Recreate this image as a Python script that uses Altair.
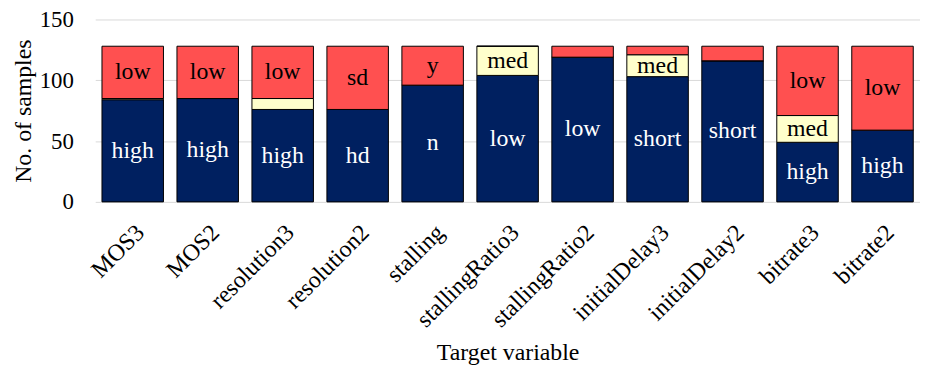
import altair as alt
import pandas as pd

categories = ["MOS3", "MOS2", "resolution3", "resolution2", "stalling",
              "stallingRatio3", "stallingRatio2", "initialDelay3",
              "initialDelay2", "bitrate3", "bitrate2"]
bottom_vals = [84, 85, 76, 76, 96, 104, 119, 103, 116, 49, 59]
middle_vals = [1, 0, 9, 0, 0, 24, 0, 18, 0, 22, 0]
top_vals = [43, 43, 43, 52, 32, 0, 9, 7, 12, 57, 69]
bottom_labels = ["high", "high", "high", "hd", "n", "low", "low", "short", "short", "high", "high"]
middle_labels = ["", "", "", "", "", "med", "", "med", "", "med", ""]
top_labels = ["low", "low", "low", "sd", "y", "", "", "", "", "low", "low"]

rows = []
for i, c in enumerate(categories):
    rows.append({"cat": c, "seg": 0, "value": bottom_vals[i], "label": bottom_labels[i]})
    rows.append({"cat": c, "seg": 1, "value": middle_vals[i], "label": middle_labels[i]})
    rows.append({"cat": c, "seg": 2, "value": top_vals[i], "label": top_labels[i]})
df = pd.DataFrame(rows)

FONT = "Liberation Serif"

base = alt.Chart(df).transform_stack(
    stack="value", groupby=["cat"], as_=["y0", "y1"],
    sort=[alt.SortField("seg", order="ascending")]
).transform_calculate(mid="(datum.y0 + datum.y1) / 2")

yscale = alt.Scale(domain=[0, 150], nice=False)

xenc = alt.X("cat:N", sort=categories, title="Target variable",
             scale=alt.Scale(paddingInner=0.18, paddingOuter=0.09),
             axis=alt.Axis(labelAngle=-45, labelAlign="right", labelBaseline="middle",
                           labelOffset=8, labelPadding=27, ticks=False, domain=False,
                           labelFontSize=24, titleFontSize=24, labelFont=FONT,
                           titleFont=FONT, titleFontWeight="normal", labelColor="black",
                           titleColor="black", titlePadding=9))

bars = base.mark_bar(stroke="black", strokeWidth=1).encode(
    x=xenc,
    y=alt.Y("y0:Q", title="No. of samples", scale=yscale,
            axis=alt.Axis(values=[0, 50, 100, 150], ticks=False, domain=False,
                          gridColor="#D9D9D9", gridWidth=1,
                          labelFontSize=23, titleFontSize=24, labelFont=FONT,
                          titleFont=FONT, titleFontWeight="normal",
                          labelColor="black", titleColor="black", labelPadding=22,
                          titlePadding=4)),
    y2="y1:Q",
    color=alt.Color("seg:O", scale=alt.Scale(domain=[0, 1, 2],
                    range=["#002060", "#FFFFCC", "#FF5050"]), legend=None),
)

texts = base.transform_filter("datum.label != ''").mark_text(
    font=FONT, fontSize=24, baseline="middle", align="center"
).encode(
    x=alt.X("cat:N", sort=categories, title="Target variable"),
    y=alt.Y("mid:Q", scale=yscale, title="No. of samples"),
    text="label:N",
    color=alt.condition("datum.seg == 0", alt.value("white"), alt.value("black")),
)

chart = alt.layer(bars, texts).properties(
    width=832, height=184,
    autosize=alt.AutoSizeParams(type="none"),
    padding={"left": 88, "top": 10, "right": 0, "bottom": 166},
).configure(font=FONT).configure_text(font=FONT).configure_axis(
    labelFont=FONT, titleFont=FONT
).configure_view(stroke=None)

chart.save("out.html", embed_options={"renderer": "svg", "actions": False})
